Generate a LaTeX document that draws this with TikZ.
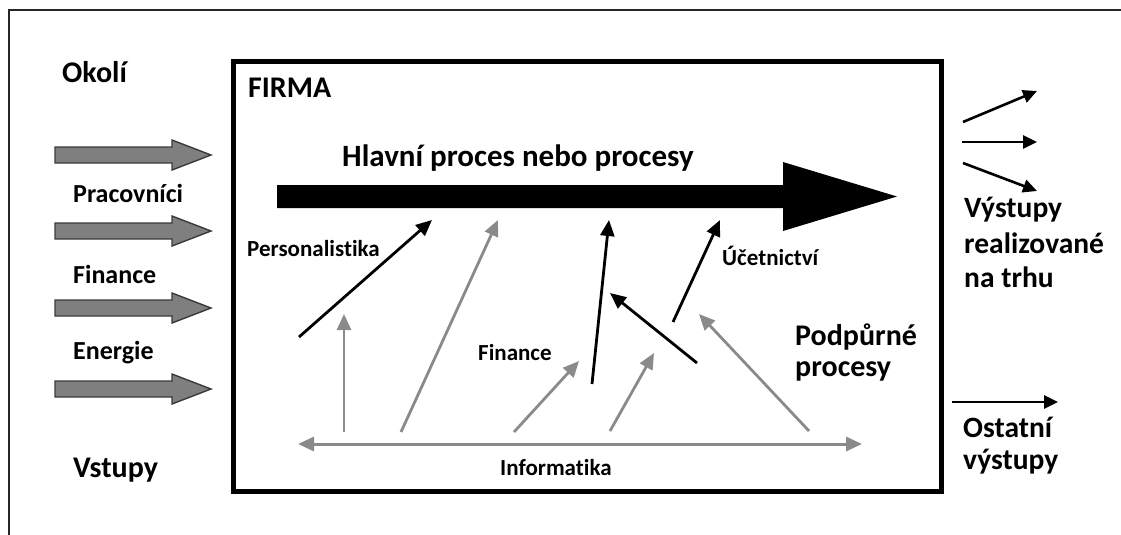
\documentclass[tikz,border=0pt]{standalone}
\usepackage{fontspec}
\setmainfont{Carlito}[Ligatures=NoCommon]
\usetikzlibrary{arrows.meta}
\definecolor{arrowgray}{HTML}{8A8A8A}
\definecolor{blockgray}{HTML}{7F7F7F}
\definecolor{blockedge}{HTML}{3A3A3A}
\begin{document}
\begin{tikzpicture}[x=1pt,y=-1pt,
  txt/.style={inner sep=0pt, anchor=base west, font=\bfseries\fontsize{#1}{#1}\selectfont},
  big/.style={txt=30},
  mid/.style={txt=26},
  small/.style={txt=23},
  blackarrow/.style={line width=2.8pt, -{Triangle[length=16pt,width=14pt]}},
  grayarrow/.style={draw=arrowgray, line width=2.8pt, -{Triangle[length=16pt,width=14pt]}},
  outarrow/.style={line width=2.6pt, -{Triangle[length=14pt,width=13pt]}},
  blockarrow/.style={fill=blockgray, draw=blockedge, line width=1.4pt, line join=miter},
]
\useasboundingbox (0,0) rectangle (1121,535);

% surroundings frame (open on the right and at the bottom)
\draw[line width=2pt, draw=black!85] (9,535) -- (9,10) -- (1121,10);

% the firm
\draw[line width=5pt] (233,62) rectangle (941,491);

% labels
\node[big] (okoli) at (62,82) {Okolí};
\node[big] (firma) at (248,97) {FIRMA};
\node[txt=31] (hlavni) at (342,166) {Hlavní proces nebo procesy};
\node[mid] (prac) at (73,202) {Pracovníci};
\node[mid] (finL) at (73,283) {Finance};
\node[mid] (ener) at (73,359) {Energie};
\node[big] (vstupy) at (73,477) {Vstupy};
\node[small] (pers) at (247,256) {Personalistika};
\node[small] (finI) at (478,360) {Finance};
\node[small] (ucet) at (722,265) {Účetnictví};
\node[big] (podp1) at (795,345) {Podpůrné};
\node[big] (podp2) at (795,376) {procesy};
\node[small] (info) at (500,475) {Informatika};
\node[txt=29.5] (vyst1) at (964,217) {Výstupy};
\node[txt=29.5] (vyst2) at (964,253) {realizované};
\node[txt=29.5] (vyst3) at (964,287) {na trhu};
\node[txt=29.5] (ost1) at (963,437) {Ostatní};
\node[txt=29.5] (ost2) at (963,469) {výstupy};

% inputs
\foreach \y in {155,231,308,389}
  \draw[blockarrow] (55,\y-8) -- (172,\y-8) -- (172,\y-15) -- (211,\y)
    -- (172,\y+15) -- (172,\y+8) -- (55,\y+8) -- cycle;

% main process
\fill (277,185) -- (783,185) -- (783,162) -- (897,196.5) -- (783,231)
  -- (783,208) -- (277,208) -- cycle;

% support processes
\coordinate (p1) at (299,337); \coordinate (p2) at (432,220);
\coordinate (g1a) at (344,432); \coordinate (g1b) at (344,314);
\coordinate (g2a) at (401,432); \coordinate (g2b) at (498,220);
\coordinate (g3a) at (514,432); \coordinate (g3b) at (579,361);
\coordinate (f1) at (592,384); \coordinate (f2) at (609,220);
\coordinate (g4a) at (610,431); \coordinate (g4b) at (654,353);
\coordinate (f3) at (697,363); \coordinate (f4) at (610,293);
\coordinate (u1) at (673,322); \coordinate (u2) at (720,220);
\coordinate (g5a) at (809,431); \coordinate (g5b) at (699,314);
\coordinate (iL) at (298,444); \coordinate (iR) at (862,444);

\draw[blackarrow] (p1) -- (p2);
\draw[blackarrow] (f1) -- (f2);
\draw[blackarrow] (f3) -- (f4);
\draw[blackarrow] (u1) -- (u2);
\draw[grayarrow] (g1a) -- (g1b);
\draw[grayarrow] (g2a) -- (g2b);
\draw[grayarrow] (g3a) -- (g3b);
\draw[grayarrow] (g4a) -- (g4b);
\draw[grayarrow] (g5a) -- (g5b);
\draw[draw=arrowgray, line width=3pt,
  {Triangle[length=16pt,width=14pt]}-{Triangle[length=16pt,width=14pt]}] (iL) -- (iR);

% outputs
\coordinate (o1a) at (963,122); \coordinate (o1b) at (1037,91);
\coordinate (o2a) at (962,142); \coordinate (o2b) at (1037,142);
\coordinate (o3a) at (963,163); \coordinate (o3b) at (1037,191);
\coordinate (o4a) at (952,402); \coordinate (o4b) at (1058,402);
\draw[outarrow] (o1a) -- (o1b);
\draw[outarrow] (o2a) -- (o2b);
\draw[outarrow] (o3a) -- (o3b);
\draw[outarrow] (o4a) -- (o4b);
\end{tikzpicture}
\end{document}
